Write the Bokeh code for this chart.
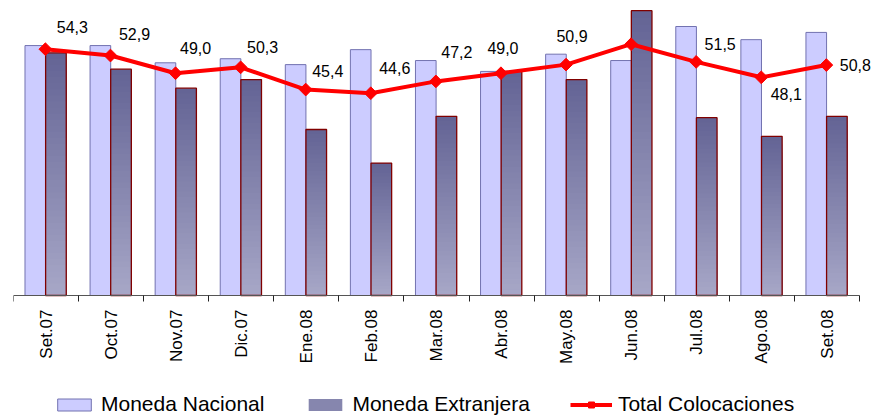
import math
import numpy as np
from bokeh.plotting import figure
from bokeh.models import (ColumnDataSource, Legend, LegendItem, Range1d, FixedTicker)
from bokeh.core.properties import value
from bokeh.embed import file_html
from bokeh.resources import INLINE

# ---------------- data ----------------
categories = ["Set.07", "Oct.07", "Nov.07", "Dic.07", "Ene.08", "Feb.08", "Mar.08",
              "Abr.08", "May.08", "Jun.08", "Jul.08", "Ago.08", "Set.08"]
moneda_nacional = [55.1, 55.1, 51.3, 52.2, 50.9, 54.2, 51.8, 49.4, 53.2, 51.8, 59.3, 56.4, 58.0]
moneda_extranjera = [53.5, 49.9, 45.7, 47.6, 36.6, 29.2, 39.5, 49.4, 47.6, 62.8, 39.2, 35.1, 39.5]
total_colocaciones = [54.3, 52.9, 49.0, 50.3, 45.4, 44.6, 47.2, 49.0, 50.9, 55.4, 51.5, 48.1, 50.8]
total_labels = ["54,3", "52,9", "49,0", "50,3", "45,4", "44,6", "47,2", "49,0", "50,9", "",
                "51,5", "48,1", "50,8"]

# label placement (screen px offsets from each point), layout only
label_dx = [27, 24, 20, 22, 22, 24, 21, 2, 6, 0, 24, 25, 29]
label_dy = [-22, -22, -25, -20, -19, -25, -29, -25, -29, 0, -18, 17, 0]

FONT = "Liberation Sans"
n = len(categories)
xs = [float(i) for i in range(n)]

# frame: x 13..871 px, y 8..420 px ; value 0 at y=295, 4.536 px per unit, 65.08 px per category
PX_X = 65.08
PX_Y = 4.536
x_end = n + (871 - (13 + n * PX_X)) / PX_X
y_end = (295 - 8) / PX_Y
y_start = -(420 - 295) / PX_Y

p = figure(width=871, height=420, output_backend="svg", toolbar_location=None,
           x_range=Range1d(0.0, x_end), y_range=Range1d(y_start, y_end),
           min_border_left=13, min_border_right=0, min_border_top=8,
           min_border_bottom=0)
p.outline_line_color = None
p.grid.visible = False
p.yaxis.visible = False

# Moneda Nacional bars (flat)
mn_src = ColumnDataSource(dict(x=[x + 0.335 for x in xs], top=moneda_nacional))
mn_r = p.vbar(x="x", top="top", width=0.317, bottom=0, source=mn_src,
              fill_color="#CCCCFF", line_color="#7272B0", line_width=1)

# Moneda Extranjera bars with vertical gradient (nested bars, tallest first)
K = 40
top_col = np.array([0x64, 0x64, 0x95], dtype=float)
bot_col = np.array([0xA8, 0xA8, 0xC8], dtype=float)
gx, gtop, gcol = [], [], []
for j in range(K):
    f = (K - j) / K
    c = bot_col + (top_col - bot_col) * f
    col = "#%02x%02x%02x" % tuple(int(round(v)) for v in c)
    for i in range(n):
        gx.append(xs[i] + 0.652)
        gtop.append(moneda_extranjera[i] * f)
        gcol.append(col)
g_src = ColumnDataSource(dict(x=gx, top=gtop, color=gcol))
g_r = p.vbar(x="x", top="top", width=0.317, bottom=0, source=g_src,
             fill_color="color", line_color=None)
me_src = ColumnDataSource(dict(x=[x + 0.652 for x in xs], top=moneda_extranjera))
me_r = p.vbar(x="x", top="top", width=0.317, bottom=0, source=me_src,
              fill_color="#7E7EA8", fill_alpha=0.0, line_color="#800000", line_width=1.3)

# Total line
tot_src = ColumnDataSource(dict(x=[x + 0.49 for x in xs], y=total_colocaciones,
                                label=total_labels, dx=label_dx, dy=label_dy))
ln = p.line(x="x", y="y", source=tot_src, line_color="#FF0000", line_width=4)
mk = p.scatter(x="x", y="y", source=tot_src, marker="square", angle=math.pi / 4,
               size=9, fill_color="#FF0000", line_color="#FF0000")

p.text(x="x", y="y", text="label", source=tot_src, x_offset="dx", y_offset="dy",
       text_align="center", text_baseline="middle", text_font=value(FONT),
       text_font_size="16px", text_color="black")

# x axis at value 0: labels at centers, ticks at category boundaries (minor)
ax = p.xaxis[0]
ax.fixed_location = 0
ax.bounds = (0, n)
ax.ticker = FixedTicker(ticks=[x + 0.5 for x in xs], minor_ticks=[float(i) for i in range(n + 1)])
ax.major_label_overrides = {x + 0.5: c for x, c in zip(xs, categories)}
ax.major_label_orientation = math.pi / 2
ax.major_label_text_font = FONT
ax.major_label_text_font_size = "17px"
ax.major_label_text_color = "black"
ax.major_label_standoff = 8
ax.major_tick_out = 0
ax.major_tick_in = 0
ax.minor_tick_out = 6
ax.minor_tick_in = 0
ax.minor_tick_line_color = "#222222"
ax.axis_line_color = "#555555"

legend = Legend(items=[
    LegendItem(label="Moneda Nacional", renderers=[mn_r]),
    LegendItem(label="Moneda Extranjera", renderers=[g_r, me_r], index=(K // 2) * n),
    LegendItem(label="Total Colocaciones", renderers=[ln, mk]),
], orientation="horizontal", location=(40, 4))
legend.label_text_font = FONT
legend.label_text_font_size = "21px"
legend.label_text_color = "black"
legend.glyph_width = 42
legend.glyph_height = 15
legend.label_standoff = 6
legend.spacing = 40
legend.padding = 0
legend.margin = 0
legend.border_line_color = None
legend.background_fill_alpha = 0
p.add_layout(legend, "center")

open("out.html", "w").write(file_html(p, INLINE))
